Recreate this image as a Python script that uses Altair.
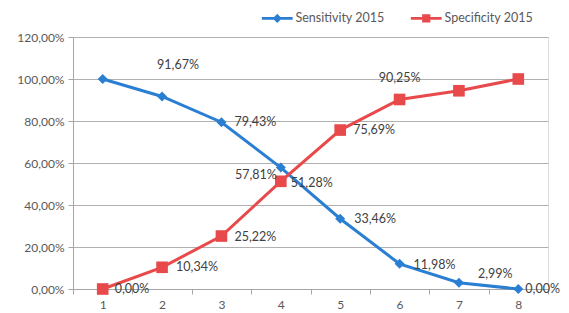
import altair as alt
import pandas as pd

categories = [1, 2, 3, 4, 5, 6, 7, 8]
sensitivity = [100.00, 91.67, 79.43, 57.81, 33.46, 11.98, 2.99, 0.00]
specificity = [0.00, 10.34, 25.22, 51.28, 75.69, 90.25, 94.40, 100.00]
series_names = ["Sensitivity 2015", "Specificity 2015"]
y_ticks = [0, 20, 40, 60, 80, 100, 120]
x_bounds = [0.5, 1.5, 2.5, 3.5, 4.5, 5.5, 6.5, 7.5, 8.5]

BLUE = "#2b7fd3"
RED = "#e8494b"
TXT = "#595959"
FONT = "Lato"

rows = []
for c, v in zip(categories, sensitivity):
    rows.append({"cat": c, "series": series_names[0], "value": v})
for c, v in zip(categories, specificity):
    rows.append({"cat": c, "series": series_names[1], "value": v})
df = pd.DataFrame(rows)

W, H = 475, 252
band = W / 8

x_enc = alt.X(
    "cat:Q",
    scale=alt.Scale(domain=[0.5, 8.5], nice=False, zero=False),
    axis=alt.Axis(
        values=x_bounds, title=None, grid=False,
        labelExpr="datum.value < 8 ? format(datum.value + 0.5, 'd') : ''",
        labelOffset=band / 2, labelFlush=False, labelOverlap=False,
        tickSize=5, tickColor="#a6a6a6", domainColor="#a6a6a6",
        labelColor=TXT, labelFontSize=12, labelFont=FONT, labelPadding=5,
    ),
)
y_enc = alt.Y(
    "value:Q",
    scale=alt.Scale(domain=[0, 120], nice=False),
    axis=alt.Axis(
        values=y_ticks, title=None, grid=True, gridColor="#b0b0b0",
        labelExpr="replace(format(datum.value, '.2f'), '.', ',') + '%'",
        tickSize=5, tickColor="#a6a6a6", domainColor="#a6a6a6",
        labelColor=TXT, labelFontSize=12, labelFont=FONT, labelPadding=4,
    ),
)
color_scale = alt.Scale(domain=series_names, range=[BLUE, RED])

base = alt.Chart(df)

line = base.mark_line(strokeWidth=3).encode(
    x=x_enc, y=y_enc, color=alt.Color("series:N", scale=color_scale, legend=None)
)
blue_pts = base.transform_filter(alt.datum.series == series_names[0]).mark_point(
    shape="diamond", filled=True, size=100, opacity=1, color=BLUE
).encode(x=x_enc, y=y_enc)
red_pts = base.transform_filter(alt.datum.series == series_names[1]).mark_square(
    size=135, opacity=1, color=RED
).encode(x=x_enc, y=y_enc)

line_path = "M-2.7,-0.25H2.7V0.25H-2.7Z"
diamond_path = line_path + " M0,-0.8L0.8,0L0,0.8L-0.8,0Z"
square_path = line_path + " M-0.72,-0.72H0.72V0.72H-0.72Z"

leg_props = dict(
    title=None, orient="none", direction="horizontal", legendX=198, legendY=-25,
    symbolSize=130, labelFontSize=12.5, labelFont=FONT, labelColor=TXT,
    labelOffset=12, columnPadding=25, symbolStrokeWidth=0,
)
legend_layer = base.transform_filter("false").mark_point(filled=True, opacity=1).encode(
    x=x_enc, y=y_enc,
    color=alt.Color("series:N", scale=color_scale, legend=alt.Legend(**leg_props)),
    shape=alt.Shape("series:N", scale=alt.Scale(domain=series_names, range=[diamond_path, square_path]),
                    legend=alt.Legend(**leg_props)),
)

# (series index, category, dx, dy, align)
label_specs = [
    (0, 2, -5, -31, "left"),
    (0, 3, 13, 0, "left"),
    (0, 4, -4, 7, "right"),
    (0, 5, 14, 0, "left"),
    (0, 6, 14, 1, "left"),
    (0, 7, 19, -9, "left"),
    (0, 8, 7, 0, "left"),
    (1, 1, 12, 0, "left"),
    (1, 2, 14, 0, "left"),
    (1, 3, 13, 1, "left"),
    (1, 4, 10, 2, "left"),
    (1, 5, 13, 0, "left"),
    (1, 6, 0, -21, "center"),
]
label_layers = []
for s, c, dx, dy, al in label_specs:
    label_layers.append(
        base.transform_filter(
            (alt.datum.series == series_names[s]) & (alt.datum.cat == c)
        ).transform_calculate(
            lbl="replace(format(datum.value, '.2f'), '.', ',') + '%'"
        ).mark_text(
            dx=dx, dy=dy, align=al, baseline="middle", fontSize=12.5, font=FONT, color="#404040"
        ).encode(x=x_enc, y=y_enc, text="lbl:N")
    )

chart = alt.layer(line, red_pts, blue_pts, legend_layer, *label_layers).resolve_scale(
    color="independent", shape="independent"
).properties(
    width=W, height=H, autosize=alt.AutoSizeParams(type="none"),
    padding={"left": 65, "top": 29, "right": 13, "bottom": 24},
).configure_view(stroke=None).configure(background="white")

chart.save("out.html", embed_options={"renderer": "svg", "actions": False})
